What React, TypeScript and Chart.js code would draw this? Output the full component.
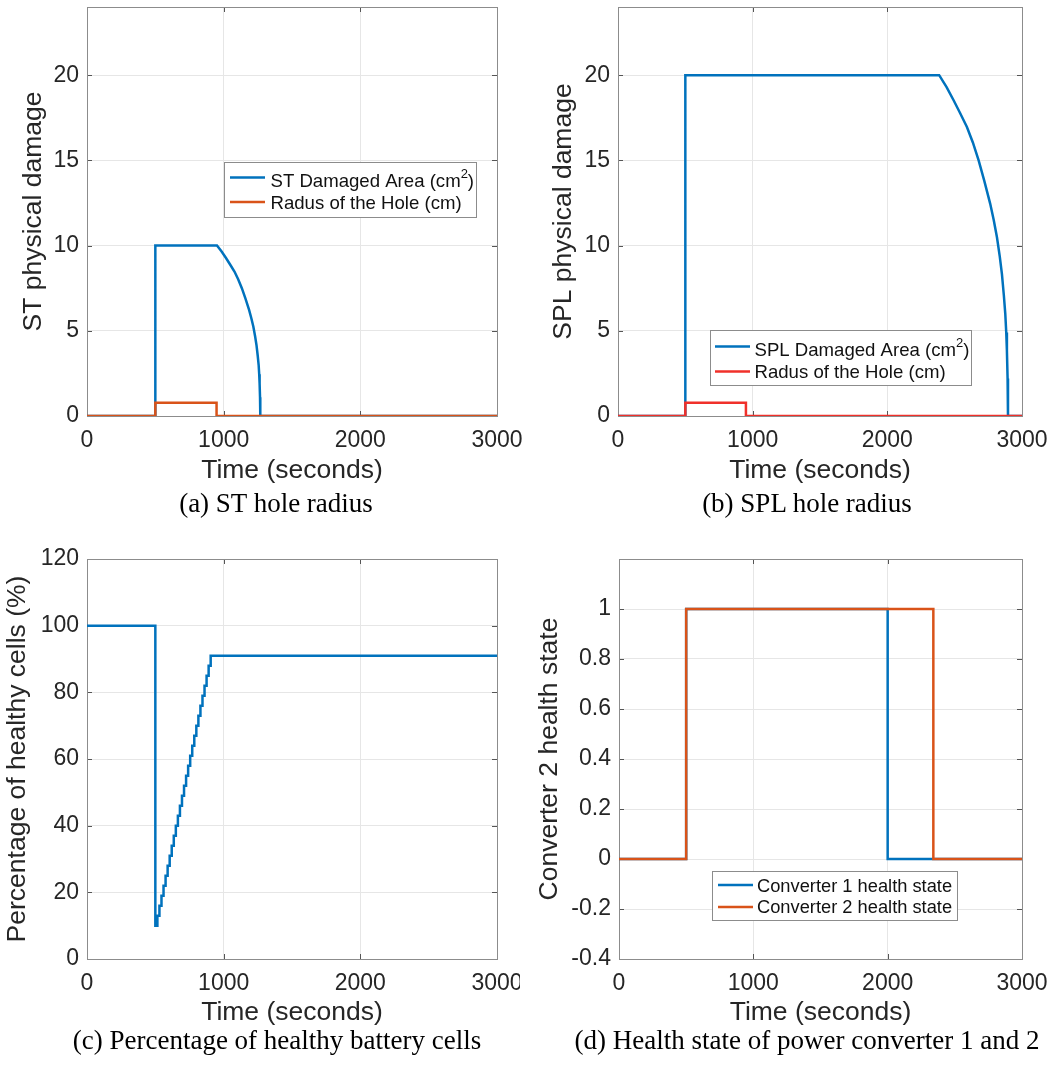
import React, { useEffect, useRef } from 'react';
import { Chart, registerables } from 'chart.js';

Chart.register(...registerables);

// ---------------- data ----------------
const xTicks = [0, 1000, 2000, 3000];
const xTickLabels = ['0', '1000', '2000', '3000'];

const damageTicks = [0, 5, 10, 15, 20];
const damageTickLabels = ['0', '5', '10', '15', '20'];
const cellTicks = [0, 20, 40, 60, 80, 100, 120];
const cellTickLabels = ['0', '20', '40', '60', '80', '100', '120'];
const convTicks = [-0.4, -0.2, 0, 0.2, 0.4, 0.6, 0.8, 1];
const convTickLabels = ['-0.4', '-0.2', '0', '0.2', '0.4', '0.6', '0.8', '1'];

// (a) ST
const stAreaTime = [0, 500, 500, 951, 985, 1017, 1047, 1079, 1106, 1133, 1159, 1186, 1202, 1217, 1230, 1240, 1249, 1256, 1260, 1263, 1266, 1268, 3000];
const stAreaValue = [0, 0, 10, 10, 9.65, 9.27, 8.89, 8.48, 8.03, 7.5, 6.9, 6.23, 5.75, 5.25, 4.68, 4.17, 3.55, 2.99, 2.45, 1.91, 1.1, 0, 0];
const stRadiusTime = [0, 500, 500, 948, 948, 3000];
const stRadiusValue = [0, 0, 0.78, 0.78, 0, 0];

// (b) SPL
const splAreaTime = [0, 500, 500, 2385, 2440, 2492, 2540, 2591, 2635, 2678, 2720, 2764, 2790, 2814, 2835, 2851, 2865, 2876, 2883, 2888, 2893, 2896, 3000];
const splAreaValue = [0, 0, 20, 20, 19.3, 18.53, 17.78, 16.96, 16.05, 15.0, 13.8, 12.45, 11.5, 10.49, 9.35, 8.33, 7.1, 5.98, 4.9, 3.82, 2.2, 0, 0];
const splRadiusTime = [0, 500, 500, 950, 950, 3000];
const splRadiusValue = [0, 0, 0.78, 0.78, 0, 0];

// (c) battery cells
const cellTime = [0, 500, 515, 530, 545, 560, 575, 590, 605, 620, 635, 650, 665, 680, 695, 710, 725, 740, 755, 770, 785, 800, 815, 830, 845, 860, 875, 890, 905, 3000];
const cellValue = [100, 10, 13, 16, 19, 22, 25, 28, 31, 34, 37, 40, 43, 46, 49, 52, 55, 58, 61, 64, 67, 70, 73, 76, 79, 82, 85, 88, 91, 91];

// (d) converters
const conv1Time = [0, 500, 2000, 3000];
const conv1Value = [0, 1, 0, 0];
const conv2Time = [0, 500, 2340, 3000];
const conv2Value = [0, 1, 0, 0];

// ---------------- styles ----------------
const BLUE = '#0072BD';
const ORANGE = '#D95319';
const RED = '#F0302A';
const TEXT = '#262626';
const GRID = '#e6e6e6';
const FONT = '"Liberation Sans", Arial, Helvetica, sans-serif';
const SERIF = '"Liberation Serif", "Times New Roman", serif';

Chart.defaults.font.family = FONT;

const pts = (xs: number[], ys: number[]) => xs.map((x, i) => ({ x, y: ys[i] }));

const lineDs = (label: string, xs: number[], ys: number[], color: string, order: number, stepped: any = false) => ({
  label,
  data: pts(xs, ys),
  borderColor: color,
  backgroundColor: color,
  borderWidth: 2.5,
  pointRadius: 0,
  fill: false,
  tension: 0,
  stepped,
  order,
  borderJoinStyle: 'miter',
  borderCapStyle: 'butt',
});

// ---------------- plugins ----------------
const matlabAxes = {
  id: 'matlabAxes',
  beforeDatasetsDraw(chart: any) {
    const { ctx, chartArea: a, scales } = chart;
    const len = 5;
    ctx.save();
    ctx.lineWidth = 1;
    ctx.strokeStyle = '#555555';
    ctx.beginPath();
    for (const t of scales.x.ticks) {
      const px = Math.round(scales.x.getPixelForValue(t.value)) + 0.5;
      ctx.moveTo(px, a.bottom);
      ctx.lineTo(px, a.bottom - len);
      ctx.moveTo(px, a.top);
      ctx.lineTo(px, a.top + len);
    }
    for (const t of scales.y.ticks) {
      const py = Math.round(scales.y.getPixelForValue(t.value)) + 0.5;
      ctx.moveTo(a.left, py);
      ctx.lineTo(a.left + len, py);
      ctx.moveTo(a.right, py);
      ctx.lineTo(a.right - len, py);
    }
    ctx.stroke();
    ctx.strokeStyle = '#8c8c8c';
    ctx.strokeRect(Math.round(a.left) + 0.5, Math.round(a.top) + 0.5, Math.round(a.right - a.left), Math.round(a.bottom - a.top));
    ctx.restore();
  },
};

const matlabLegend = {
  id: 'matlabLegend',
  afterDatasetsDraw(chart: any, _args: any, opts: any) {
    if (!opts || !opts.box) return;
    const { ctx } = chart;
    const ox = opts.offset[0];
    const oy = opts.offset[1];
    const [bx, by, bw, bh] = opts.box;
    ctx.save();
    ctx.fillStyle = '#ffffff';
    ctx.fillRect(bx - ox, by - oy, bw, bh);
    ctx.strokeStyle = '#8c8c8c';
    ctx.lineWidth = 1;
    ctx.strokeRect(Math.round(bx - ox) + 0.5, Math.round(by - oy) + 0.5, Math.round(bw), Math.round(bh));
    chart.data.datasets.forEach((ds: any, i: number) => {
      const row = opts.rows[i];
      if (!row) return;
      const [ly, ty] = row;
      ctx.strokeStyle = ds.borderColor;
      ctx.lineWidth = 2.5;
      ctx.beginPath();
      ctx.moveTo(opts.line[0] - ox, ly - oy);
      ctx.lineTo(opts.line[1] - ox, ly - oy);
      ctx.stroke();
      ctx.fillStyle = '#111111';
      ctx.textBaseline = 'middle';
      ctx.textAlign = 'left';
      const main = `${opts.fontSize}px ${FONT}`;
      const small = `${Math.round(opts.fontSize * 0.7)}px ${FONT}`;
      const parts = String(ds.label).split('²');
      let x = opts.textX - ox;
      const y = ty - oy;
      ctx.font = main;
      ctx.fillText(parts[0], x, y);
      x += ctx.measureText(parts[0]).width;
      if (parts.length > 1) {
        ctx.font = small;
        ctx.fillText('2', x, y - 7);
        x += ctx.measureText('2').width;
        ctx.font = main;
        ctx.fillText(parts[1], x, y);
      }
    });
    ctx.restore();
  },
};

// ---------------- panels ----------------
type PanelDef = {
  key: string;
  left: number;
  top: number;
  w: number;
  h: number;
  plot: { l: number; t: number; r: number; b: number };
  yMin: number;
  yMax: number;
  yTicks: number[];
  yLabels: string[];
  yTitle: string;
  yTitlePad: number;
  xTitlePad: number;
  datasets: any[];
  legend: any;
};

const panels: PanelDef[] = [
  {
    key: 'a',
    left: 0, top: 0, w: 530, h: 490,
    plot: { l: 87, t: 7, r: 497, b: 416 },
    yMin: 0, yMax: 24, yTicks: damageTicks, yLabels: damageTickLabels,
    yTitle: 'ST physical damage', yTitlePad: 17.5, xTitlePad: 3,
    datasets: [
      lineDs('ST Damaged Area (cm²)', stAreaTime, stAreaValue, BLUE, 1),
      lineDs('Radus of the Hole (cm)', stRadiusTime, stRadiusValue, ORANGE, 0),
    ],
    legend: { box: [224, 162, 252, 55], line: [230, 265], textX: 270.5, rows: [[177.5, 181.5], [202, 203.5]], fontSize: 18.6 },
  },
  {
    key: 'b',
    left: 530, top: 0, w: 531, h: 490,
    plot: { l: 618, t: 7, r: 1022, b: 416 },
    yMin: 0, yMax: 24, yTicks: damageTicks, yLabels: damageTickLabels,
    yTitle: 'SPL physical damage', yTitlePad: 18, xTitlePad: 3,
    datasets: [
      lineDs('SPL Damaged Area (cm²)', splAreaTime, splAreaValue, BLUE, 1),
      lineDs('Radus of the Hole (cm)', splRadiusTime, splRadiusValue, RED, 0),
    ],
    legend: { box: [710, 330, 261, 55], line: [715, 750], textX: 754.5, rows: [[346.5, 350.5], [371.5, 372.5]], fontSize: 18.6 },
  },
  {
    key: 'c',
    left: 0, top: 540, w: 520, h: 490,
    plot: { l: 87, t: 559, r: 497, b: 959 },
    yMin: 0, yMax: 120, yTicks: cellTicks, yLabels: cellTickLabels,
    yTitle: 'Percentage of healthy cells (%)', yTitlePad: 2, xTitlePad: 1.5,
    datasets: [lineDs('Percentage of healthy cells', cellTime, cellValue, BLUE, 0, 'before')],
    legend: {},
  },
  {
    key: 'd',
    left: 530, top: 540, w: 531, h: 490,
    plot: { l: 619, t: 559, r: 1022, b: 959 },
    yMin: -0.4, yMax: 1.2, yTicks: convTicks, yLabels: convTickLabels,
    yTitle: 'Converter 2 health state', yTitlePad: 3.5, xTitlePad: 1.5,
    datasets: [
      lineDs('Converter 1 health state', conv1Time, conv1Value, BLUE, 1, 'before'),
      lineDs('Converter 2 health state', conv2Time, conv2Value, ORANGE, 0, 'before'),
    ],
    legend: { box: [712, 871, 245, 49], line: [718, 753], textX: 757, rows: [[885, 886.5], [907, 908]], fontSize: 18.3 },
  },
];

const captions = [
  { text: '(a) ST hole radius', cx: 276, baseline: 513 },
  { text: '(b) SPL hole radius', cx: 807, baseline: 513 },
  { text: '(c) Percentage of healthy battery cells', cx: 277, baseline: 1050 },
  { text: '(d) Health state of power converter 1 and 2', cx: 807, baseline: 1050 },
];

function zeroPad(s: any) {
  s.paddingLeft = 0;
  s.paddingRight = 0;
  s.paddingTop = 0;
  s.paddingBottom = 0;
}

function PanelChart({ p }: { p: PanelDef }) {
  const ref = useRef<HTMLCanvasElement>(null);
  useEffect(() => {
    if (!ref.current) return;
    const yW = p.plot.l - p.left;
    const xH = p.top + p.h - p.plot.b;
    const chart = new Chart(ref.current, {
      type: 'line',
      data: { datasets: p.datasets },
      options: {
        animation: false,
        responsive: false,
        devicePixelRatio: 1,
        events: [],
        layout: {
          padding: { left: 0, top: p.plot.t - p.top, right: p.left + p.w - p.plot.r, bottom: 0 },
        },
        plugins: {
          legend: { display: false },
          tooltip: { enabled: false },
          matlabLegend: { ...p.legend, offset: [p.left, p.top] },
        },
        scales: {
          x: {
            type: 'linear',
            min: 0,
            max: 3000,
            afterBuildTicks: (s: any) => {
              s.ticks = xTicks.map((v) => ({ value: v }));
            },
            afterFit: (s: any) => {
              s.height = xH;
              zeroPad(s);
            },
            grid: { color: GRID, lineWidth: 1, drawTicks: false },
            border: { display: false },
            ticks: {
              autoSkip: false,
              maxRotation: 0,
              padding: 11,
              color: TEXT,
              font: { size: 23, family: FONT },
              callback: (_v: any, i: number) => xTickLabels[i],
            },
            title: {
              display: true,
              text: 'Time (seconds)',
              color: TEXT,
              font: { size: 26.5, family: FONT },
              padding: { top: 0, bottom: p.xTitlePad },
            },
          },
          y: {
            type: 'linear',
            min: p.yMin,
            max: p.yMax,
            afterBuildTicks: (s: any) => {
              s.ticks = p.yTicks.map((v) => ({ value: v }));
            },
            afterFit: (s: any) => {
              s.width = yW;
              zeroPad(s);
            },
            grid: { color: GRID, lineWidth: 1, drawTicks: false },
            border: { display: false },
            ticks: {
              autoSkip: false,
              padding: 8,
              color: TEXT,
              font: { size: 23, family: FONT },
              callback: (_v: any, i: number) => p.yLabels[i],
            },
            title: {
              display: true,
              text: p.yTitle,
              color: TEXT,
              font: { size: 26.5, family: FONT },
              padding: { top: p.yTitlePad, bottom: 0 },
            },
          },
        },
      } as any,
      plugins: [matlabAxes, matlabLegend],
    });
    return () => chart.destroy();
  }, []);
  return (
    <canvas
      ref={ref}
      width={p.w}
      height={p.h}
      style={{ position: 'absolute', left: p.left, top: p.top, width: p.w, height: p.h }}
    />
  );
}

export default function App() {
  return (
    <div style={{ position: 'absolute', left: 0, top: 0, width: 1061, height: 1074, background: '#ffffff', overflow: 'hidden' }}>
      {panels.map((p) => (
        <PanelChart key={p.key} p={p} />
      ))}
      {captions.map((c) => (
        <div
          key={c.text}
          style={{
            position: 'absolute',
            left: c.cx - 300,
            width: 600,
            top: c.baseline - 22.6,
            height: 30,
            lineHeight: '27px',
            fontSize: 27,
            fontFamily: SERIF,
            color: '#000',
            textAlign: 'center',
            whiteSpace: 'nowrap',
          }}
        >
          {c.text}
        </div>
      ))}
    </div>
  );
}
